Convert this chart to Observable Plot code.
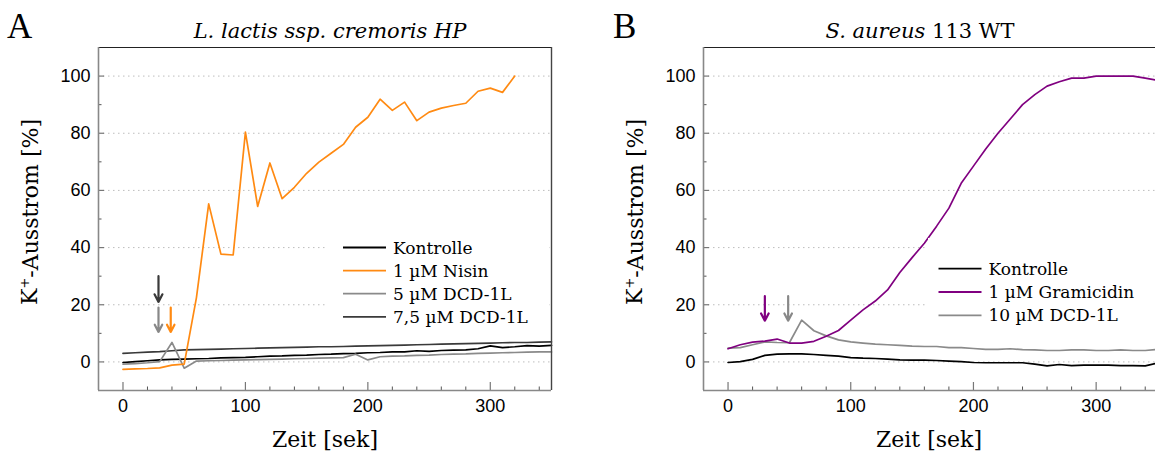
<!DOCTYPE html>
<html>
<head>
<meta charset="utf-8">
<script src="https://cdn.jsdelivr.net/npm/d3@7"></script>
<script src="https://cdn.jsdelivr.net/npm/@observablehq/plot@0.6"></script>
<style>
html, body { margin: 0; padding: 0; background: #fff; overflow: hidden; }
#wrap { position: relative; width: 1155px; height: 453px; overflow: hidden; }
#wrap > svg { position: absolute; top: 0; }
</style>
</head>
<body>
<div id="wrap"></div>
<script>
// ---------- Data ----------
const timeA = [0,10,20,30,40,50,60,70,80,90,100,110,120,130,140,150,160,170,180,190,200,210,220,230,240,250,260,270,280,290,300,310,320,330,340,350];
const kontrolleA = [-0.2,0.1,0.4,0.7,0.9,1.0,1.1,1.2,1.4,1.5,1.6,1.8,2.0,2.1,2.3,2.4,2.6,2.7,2.9,3.0,3.2,3.3,3.5,3.5,3.9,3.7,4.0,4.1,4.2,4.6,5.6,5.0,5.3,5.7,5.5,5.8];
const nisinA = [-2.6,-2.4,-2.3,-2.1,-1.1,-0.8,22.5,55.3,37.7,37.4,80.4,54.4,69.6,57.1,61.1,66.0,69.9,73.0,76.1,82.1,85.6,91.9,88.0,90.9,84.4,87.4,88.8,89.7,90.5,94.7,95.8,94.3,100];
const dcd5A = [-0.8,-0.6,-0.3,0.1,6.8,-2.2,0.3,0.4,0.5,0.6,0.7,0.8,0.9,1.0,1.1,1.2,1.3,1.4,1.5,2.7,0.7,1.8,2.0,2.1,2.3,2.4,2.6,2.7,2.8,3.0,3.1,3.2,3.3,3.4,3.5,3.5];
const dcd75A = [3.0,3.2,3.4,3.6,3.9,4.2,4.3,4.4,4.5,4.6,4.7,4.8,4.9,5.0,5.1,5.2,5.3,5.3,5.4,5.5,5.6,5.7,5.8,5.9,6.0,6.1,6.2,6.3,6.4,6.5,6.6,6.7,6.8,6.8,6.9,7.0];

const timeB = [0,10,20,30,40,50,60,70,80,90,100,110,120,130,140,150,160,170,180,190,200,210,220,230,240,250,260,270,280,290,300,310,320,330,340,350];
const kontrolleB = [-0.2,0.1,0.9,2.3,2.7,2.8,2.8,2.6,2.3,2.0,1.5,1.3,1.2,1.0,0.7,0.6,0.6,0.5,0.3,0.1,-0.2,-0.3,-0.3,-0.3,-0.3,-0.8,-1.4,-0.9,-1.3,-1.1,-1.1,-1.1,-1.3,-1.3,-1.4,-0.4];
const gramicidinB = [4.6,6.0,6.9,7.3,8.0,6.6,6.6,7.2,9.0,11.0,14.6,18.2,21.3,25.2,31.3,36.5,41.5,47.5,53.8,62.5,68.5,74.5,80.0,85.0,90.0,93.5,96.5,98.0,99.3,99.3,100,100,100,100,99.3,98.5];
const dcd10B = [4.8,5.0,6.0,7.0,6.8,6.7,14.6,10.9,9.1,7.7,7.0,6.6,6.2,6.0,5.8,5.5,5.4,5.4,5.0,5.0,4.7,4.4,4.4,4.6,4.3,4.2,4.0,4.0,4.2,4.2,4.0,4.0,4.2,4.0,4.0,4.4];

// arrows: time of addition, arrow top, arrow tip
const arrowsA_x = [29, 29, 39];
const arrowsA_y1 = [30, 19, 19];
const arrowsA_y2 = [21, 10.5, 10.5];
const arrowsA_color = ["#3a3a3a", "#888888", "#ff8a12"];
const arrowsB_x = [30, 49];
const arrowsB_y1 = [23, 23];
const arrowsB_y2 = [14.4, 14.4];
const arrowsB_color = ["#800080", "#888888"];

const legendA_names = ["Kontrolle", "1 µM Nisin", "5 µM DCD-1L", "7,5 µM DCD-1L"];
const legendA_colors = ["#000000", "#ff8a12", "#8a8a8a", "#3a3a3a"];
const legendB_names = ["Kontrolle", "1 µM Gramicidin", "10 µM DCD-1L"];
const legendB_colors = ["#000000", "#800080", "#8a8a8a"];

const xMajor = [0, 100, 200, 300];
const xMinor = [20,40,60,80,120,140,160,180,220,240,260,280,320,340];
const yMajor = [0, 20, 40, 60, 80, 100];
const yMinor = [10, 30, 50, 70, 90];
const xDomain = [-20, 350];
const yDomain = [-10, 110];

// ---------- Layout ----------
const H = 453, MT = 47, MB = 63;
const plotH = H - MT - MB;

function rows(t, v) { return v.map((d, i) => ({t: t[i], v: d})); }

function panel({left, width, marginLeft, marginRight, series, arrows, drawRight}) {
  const plotW = width - marginLeft - marginRight;
  const marks = [
    Plot.ruleY(yMajor, {stroke: "#bdbdbd", strokeDasharray: "1.5,3.5", strokeWidth: 1}),
    ...series.map(s => Plot.line(rows(s.t, s.v), {x: "t", y: "v", stroke: s.color, strokeWidth: 1.7})),
    Plot.arrow(arrows, {x1: "x", x2: "x", y1: "y1", y2: "y2", stroke: "c", strokeWidth: 2.2, headLength: 10, headAngle: 55}),
    // ticks (inward)
    Plot.tickX(xMajor, {stroke: "#777", strokeWidth: 1.2, insetTop: plotH - 8}),
    Plot.tickX(xMinor, {stroke: "#555", strokeWidth: 1, insetTop: plotH - 3.5}),
    Plot.tickY(yMajor, {stroke: "#777", strokeWidth: 1.2, insetRight: plotW - 6}),
    Plot.tickY(yMinor, {stroke: "#555", strokeWidth: 1, insetRight: plotW - 3.5}),
    // frame
    Plot.ruleY([yDomain[1]], {stroke: "#222", strokeWidth: 1.2}),
    Plot.ruleY([yDomain[0]], {stroke: "#888", strokeWidth: 1.6}),
    Plot.ruleX([xDomain[0]], {stroke: "#888", strokeWidth: 1.6}),
    Plot.axisX({ticks: xMajor, tickSize: 0, tickPadding: 9, label: null}),
    Plot.axisY({ticks: yMajor, tickSize: 0, tickPadding: 8, label: null})
  ];
  if (drawRight) marks.push(Plot.ruleX([xDomain[1]], {stroke: "#444", strokeWidth: 1.4}));
  const svg = Plot.plot({
    width, height: H,
    marginTop: MT, marginBottom: MB, marginLeft, marginRight,
    x: {domain: xDomain},
    y: {domain: yDomain},
    style: {fontFamily: "'Liberation Sans', Arial, sans-serif", fontSize: "18px", color: "#000", background: "transparent", overflow: "visible"},
    marks
  });
  svg.style.left = left + "px";
  return svg;
}

const wrap = document.getElementById("wrap");

const arrA = arrowsA_x.map((x, i) => ({x, y1: arrowsA_y1[i], y2: arrowsA_y2[i], c: arrowsA_color[i]}));
const arrB = arrowsB_x.map((x, i) => ({x, y1: arrowsB_y1[i], y2: arrowsB_y2[i], c: arrowsB_color[i]}));

wrap.appendChild(panel({
  left: 0, width: 577, marginLeft: 98, marginRight: 26, drawRight: true,
  series: [
    {t: timeA, v: kontrolleA, color: legendA_colors[0]},
    {t: timeA, v: dcd75A, color: legendA_colors[3]},
    {t: timeA, v: dcd5A, color: legendA_colors[2]},
    {t: timeA, v: nisinA, color: legendA_colors[1]}
  ],
  arrows: arrA
}));
wrap.appendChild(panel({
  left: 577, width: 580, marginLeft: 126, marginRight: 0, drawRight: false,
  series: [
    {t: timeB, v: kontrolleB, color: legendB_colors[0]},
    {t: timeB, v: dcd10B, color: legendB_colors[2]},
    {t: timeB, v: gramicidinB, color: legendB_colors[1]}
  ],
  arrows: arrB
}));

// ---------- Overlay: titles, labels, legends ----------
const ov = d3.select(wrap).append("svg")
  .attr("width", 1155).attr("height", H)
  .style("left", "0px").style("pointer-events", "none");

const serif = "'DejaVu Serif', serif";

function legend(names, colors, box, x0, y0, dy) {
  ov.append("rect").attr("x", box[0]).attr("y", box[1]).attr("width", box[2]).attr("height", box[3]).attr("fill", "#fff");
  names.forEach((n, i) => {
    const y = y0 + i * dy;
    ov.append("line").attr("x1", x0).attr("x2", x0 + 43).attr("y1", y).attr("y2", y)
      .attr("stroke", colors[i]).attr("stroke-width", 1.8);
    ov.append("text").attr("x", x0 + 50).attr("y", y).attr("dy", "0.36em")
      .attr("font-family", serif).attr("font-size", 17).attr("fill", "#000").text(n);
  });
}
legend(legendA_names, legendA_colors, [327, 232, 222, 98], 343, 247.5, 23.1);
legend(legendB_names, legendB_colors, [928, 238, 227, 90], 938.5, 268.7, 23.3);

// panel letters
ov.append("text").attr("x", 7).attr("y", 38).attr("font-family", "'Liberation Serif', serif").attr("font-size", 35).text("A");
ov.append("text").attr("x", 613).attr("y", 38).attr("font-family", "'Liberation Serif', serif").attr("font-size", 35).text("B");

// titles
ov.append("text").attr("x", 330).attr("y", 38).attr("text-anchor", "middle")
  .attr("font-family", serif).attr("font-size", 21).attr("font-style", "italic")
  .text("L. lactis ssp. cremoris HP");
const tB = ov.append("text").attr("x", 920).attr("y", 38).attr("text-anchor", "middle")
  .attr("font-family", serif).attr("font-size", 21);
tB.append("tspan").attr("font-style", "italic").text("S. aureus");
tB.append("tspan").text(" 113 WT");

// axis labels
[325, 929].forEach(cx => {
  ov.append("text").attr("x", cx).attr("y", 447).attr("text-anchor", "middle")
    .attr("font-family", serif).attr("font-size", 22).text("Zeit [sek]");
});
[37, 642].forEach(bx => {
  const t = ov.append("text").attr("transform", `translate(${bx},212) rotate(-90)`)
    .attr("text-anchor", "middle").attr("font-family", serif).attr("font-size", 22);
  t.append("tspan").text("K");
  t.append("tspan").attr("font-size", 13).attr("dy", "-0.65em").text("+");
  t.append("tspan").attr("dy", "0.42em").text("-Ausstrom [%]");
});
</script>
</body>
</html>
